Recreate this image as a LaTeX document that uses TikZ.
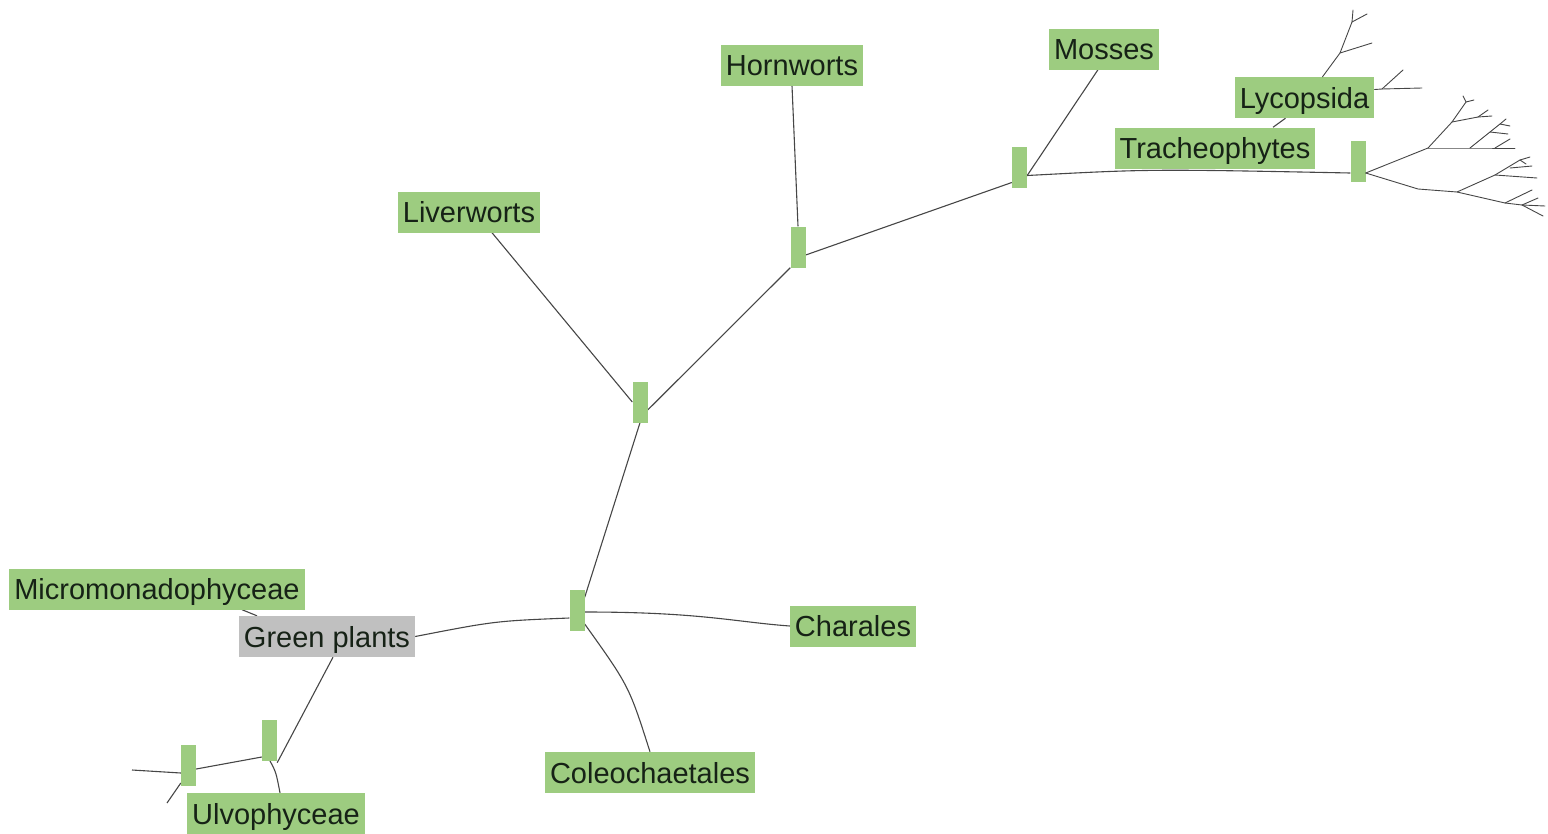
\documentclass[tikz,border=0pt]{standalone}
\usepackage{fontspec}
\setmainfont{Liberation Sans}
\usetikzlibrary{backgrounds}
\definecolor{lgreen}{RGB}{157,204,128}
\definecolor{lgray}{RGB}{192,192,192}
\definecolor{txt}{RGB}{22,34,22}
\definecolor{ln}{RGB}{70,70,70}
\begin{document}
\begin{tikzpicture}[x=1pt,y=-1pt,
 lbl/.style={fill=lgreen, text=txt, font=\fontsize{29}{30}\selectfont, inner xsep=5pt, inner ysep=0pt, minimum height=41pt, text height=21pt, text depth=0pt},
 glbl/.style={lbl, fill=lgray},
 bar/.style={fill=lgreen, minimum width=15pt, minimum height=41pt, inner sep=0pt},
 br/.style={draw=ln, line width=1.1pt},
 tw/.style={draw=ln, line width=0.9pt, line cap=round}]
\useasboundingbox (0,0) rectangle (1548,833);

% bars (internal nodes)
\node[bar] (b1) at (577,610) {};
\node[bar] (b2) at (640,402) {};
\node[bar] (b3) at (798,247) {};
\node[bar] (b4) at (1019.5,167.5) {};
\node[bar] (b5) at (1358,161) {};
\node[bar] (b6) at (269.5,740) {};
\node[bar] (b7) at (188.5,765) {};

% labels
\node[glbl] (gp) at (327,636.5) {Green plants};
\node[lbl] (mic) at (157,589) {Micromonadophyceae};
\node[lbl] (cha) at (853,626) {Charales};
\node[lbl] (col) at (650,772.5) {Coleochaetales};
\node[lbl] (ulv) at (276,813.5) {Ulvophyceae};
\node[lbl] (liv) at (469,212) {Liverworts};
\node[lbl] (hor) at (792,65) {Hornworts};
\node[lbl] (mos) at (1104,49) {Mosses};
\node[lbl] (tra) at (1215,148) {Tracheophytes};
\node[lbl] (lyc) at (1304.5,97.5) {Lycopsida};

% free ends
\coordinate (o1) at (132,770);
\coordinate (o2) at (167,803);

\begin{scope}[on background layer]
\draw[br] ([yshift=-8pt]b1.west) .. controls (495,621) .. (gp.east);
\draw[br] ([yshift=-2pt]b1.east) .. controls (700,612) and (735,622) .. (cha.west);
\draw[br] ([yshift=-14pt]b1.east) .. controls (629,686) .. (col.north);
\draw[br] ([yshift=-8pt]b1.north east) -- (b2.south);
\draw[br] (b2.west) -- ([xshift=23pt]liv.south);
\draw[br] ([yshift=-8pt]b2.east) -- (b3.south west);
\draw[br] (b3.north) -- (hor.south);
\draw[br] ([yshift=-8pt]b3.east) -- ([yshift=-15pt]b4.west);
\draw[br] ([yshift=-8pt]b4.east) -- ([xshift=-6pt]mos.south);
\draw[br] ([yshift=-8pt]b4.east) .. controls (1150,169) .. ([yshift=-12pt]b5.west);
\draw[br] ([xshift=6pt]gp.south) -- ([yshift=-2pt]b6.south east);
\draw[br] ([yshift=-17pt]b6.west) -- ([yshift=-4pt]b7.east);
\draw[br] ([yshift=-20pt]b6.center) .. controls (276,772) .. ([xshift=4pt]ulv.north);
\draw[br] ([yshift=-8pt]b7.west) -- (o1);
\draw[br] ([yshift=-18pt]b7.west) -- (o2);
\draw[br] ([xshift=85pt]mic.south) -- ([xshift=-70pt]gp.north);
\draw[br] ([xshift=58pt]tra.north) -- ([xshift=-19pt]lyc.south);
\end{scope}

% Lycopsida sub-tree
\coordinate (l1) at (1340,53);
\coordinate (l2) at (1352,22);
\draw[tw] ([xshift=18pt]lyc.north) -- (l1) -- (l2) -- (1353,10);
\draw[tw] (l2) -- (1367,14);
\draw[tw] (l1) -- (1372,43);
\coordinate (l3) at (1382,89);
\draw[tw] ([yshift=8pt]lyc.east) -- (l3) -- (1422,88);
\draw[tw] (l3) -- (1403,70);

% Tracheophyte fan
\coordinate (R) at ([yshift=-12pt]b5.east);
\coordinate (A) at (1428,148);
\coordinate (A1) at (1452,122);
\coordinate (A2) at (1466,102);
\coordinate (A3) at (1478,117);
\coordinate (A4) at (1470,148);
\coordinate (A5) at (1490,132);
\coordinate (A6) at (1500,124);
\coordinate (B0) at (1418,189);
\coordinate (B) at (1457,192);
\coordinate (B1) at (1495,175);
\coordinate (B2) at (1520,160);
\coordinate (B3) at (1505,203);
\coordinate (B4) at (1522,205);
\draw[tw] (R) -- (A) -- (A1) -- (A2) -- (1463,96);
\draw[tw] (A2) -- (1474,100);
\draw[tw] (A1) -- (A3) -- (1492,116);
\draw[tw] (A3) -- (1488,110);
\draw[tw] (A) -- (A4) -- (1515,148);
\draw[tw] (A4) -- (A5) -- (A6) -- (1506,119);
\draw[tw] (A6) -- (1510,126);
\draw[tw] (A5) -- (1508,134);
\draw[tw] (1495,148) -- (1510,139);
\draw[tw] (R) -- (B0) -- (B) -- (B1) -- (B2) -- (1530,157);
\draw[tw] (B1) -- (1537,178);
\draw[tw] (B2) -- (1526,164);
\draw[tw] (1510,168) -- (1532,166);
\draw[tw] (B) -- (B3) -- (B4) -- (1545,206);
\draw[tw] (B3) -- (1532,190);
\draw[tw] (B4) -- (1543,216);
\draw[tw] (B4) -- (1538,198);
\end{tikzpicture}
\end{document}
